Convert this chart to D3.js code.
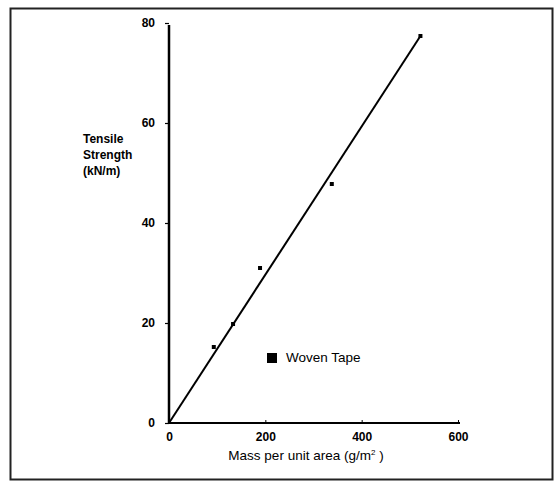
<!DOCTYPE html>
<html><head><meta charset="utf-8">
<script src="https://cdn.jsdelivr.net/npm/d3@7"></script>
<style>body{margin:0;background:#fff}svg{display:block}text{font-family:"Liberation Sans",Arial,sans-serif}</style>
</head><body><svg id="c" width="556" height="482"></svg>
<script>
const massValues = [93, 133, 189, 338, 522];
const strengthValues = [15.2, 19.8, 31, 47.8, 77.4];
const fitLine = [[0, 0], [522, 77.4]];
const xTicks = [0, 200, 400, 600];
const yTicks = [0, 20, 40, 60, 80];
const seriesName = "Woven Tape";
const yTitle = ["Tensile", "Strength", "(kN/m)"];
const xTitleMain = "Mass per unit area (g/m";
const xTitleSup = "2";
const xTitleEnd = " )";

const svg = d3.select("#c");
// frame
svg.append("rect").attr("x",10.5).attr("y",8.5).attr("width",542).attr("height",471)
  .attr("fill","none").attr("stroke","#222").attr("stroke-width",2);

const x = d3.scaleLinear().domain([0,600]).range([169,458]);
const y = d3.scaleLinear().domain([0,80]).range([423,23]);

// axes
const gy = svg.append("g").attr("transform",`translate(${x(0)},0)`)
  .call(d3.axisLeft(y).tickValues(yTicks).tickSize(4).tickPadding(10).tickFormat(d3.format("d")));
gy.select(".domain").attr("stroke","#000").attr("stroke-width",2.5).attr("d",`M0,${y(0)}V${y(80)+2}`);
gy.selectAll(".tick line").attr("stroke","#000").attr("stroke-width",1.2);
gy.selectAll(".tick text").attr("font-size",12).attr("font-weight","bold").attr("fill","#000");

const gx = svg.append("g").attr("transform",`translate(0,${y(0)})`)
  .call(d3.axisBottom(x).tickValues(xTicks).tickSize(-3).tickPadding(9).tickFormat(d3.format("d")));
gx.select(".domain").attr("stroke","#000").attr("stroke-width",1.8).attr("d",`M${x(0)},0H${x(600)+2}`);
gx.selectAll(".tick line").attr("stroke","#000").attr("stroke-width",1);
gx.selectAll(".tick text").attr("font-size",12).attr("font-weight","bold").attr("fill","#000");

// line
svg.append("path").datum(fitLine)
  .attr("d", d3.line().x(d=>x(d[0])).y(d=>y(d[1])))
  .attr("fill","none").attr("stroke","#000").attr("stroke-width",2);

// points
svg.selectAll("rect.pt").data(massValues).join("rect").attr("class","pt")
  .attr("x",(d)=>x(d)-2).attr("y",(d,i)=>y(strengthValues[i])-2)
  .attr("width",4).attr("height",4).attr("fill","#000");

// legend
svg.append("rect").attr("x",267).attr("y",353).attr("width",10).attr("height",10).attr("fill","#000");
svg.append("text").attr("x",286).attr("y",362).attr("font-size",13.5).attr("fill","#000").text(seriesName);

// y title
svg.append("text").attr("x",83).attr("y",143).attr("font-size",12).attr("font-weight","bold").attr("fill","#000")
  .selectAll("tspan").data(yTitle).join("tspan").attr("x",83).attr("dy",(d,i)=>i?16:0).text(d=>d);

// x title
const xt = svg.append("text").attr("x",306).attr("y",460).attr("text-anchor","middle").attr("font-size",13.5).attr("fill","#000");
xt.append("tspan").text(xTitleMain);
xt.append("tspan").attr("dy",-5).attr("font-size",8).text(xTitleSup);
xt.append("tspan").attr("dy",5).text(xTitleEnd);
</script></body></html>
